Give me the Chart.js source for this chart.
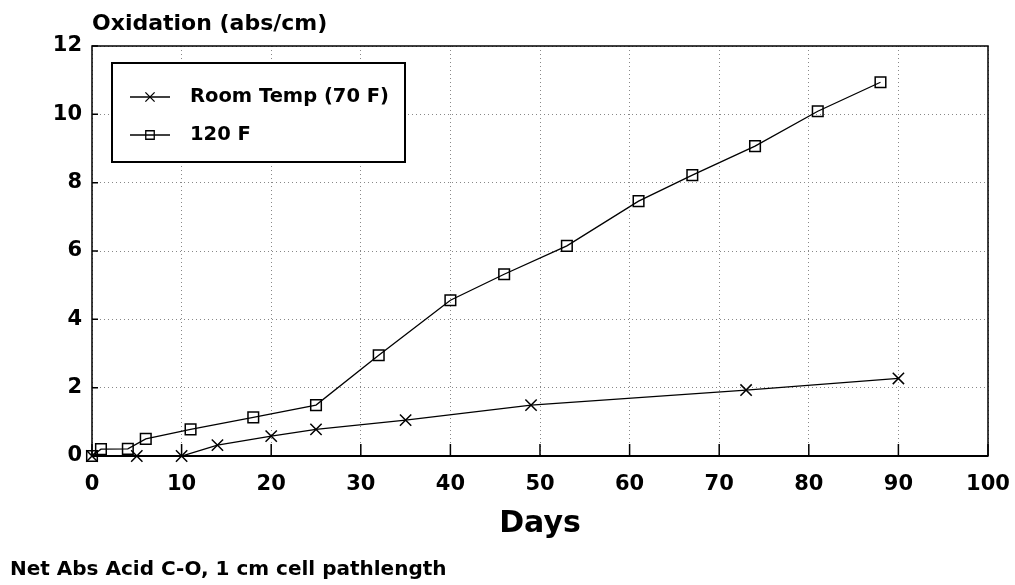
<!DOCTYPE html>
<html>
<head>
<meta charset="utf-8">
<script src="https://cdn.jsdelivr.net/npm/chart.js@4/dist/chart.umd.min.js"></script>
<style>
  html, body { margin: 0; padding: 0; background: #fff; }
  #wrap { width: 1015px; height: 585px; }
</style>
</head>
<body>
<div id="wrap"><canvas id="oxChart" width="1015" height="585"></canvas></div>
<script>
// ---- data ----
var roomDays = [0, 5, 10, 14, 20, 25, 35, 49, 73, 90];
var roomVals = [0, 0, 0, 0.32, 0.58, 0.78, 1.05, 1.49, 1.93, 2.27];
var hotDays = [0, 1, 4, 6, 11, 18, 25, 32, 40, 46, 53, 61, 67, 74, 81, 88];
var hotVals = [0, 0.2, 0.21, 0.5, 0.78, 1.13, 1.49, 2.95, 4.56, 5.32, 6.15, 7.46, 8.22, 9.07, 10.09, 10.94];
var seriesNames = ['Room Temp (70 F)', '120 F'];
var yTitle = 'Oxidation (abs/cm)';
var xTitle = 'Days';
var footNote = 'Net Abs Acid C-O, 1 cm cell pathlength';

var FONT = '"DejaVu Sans", sans-serif';

function pairs(xs, ys) {
    return xs.map(function (x, i) { return { x: x, y: ys[i] }; });
}

/* ── frame, inward ticks, titles, legend ───────────── */
var decorPlugin = {
    id: 'decor',
    afterDraw: function (chart) {
        var ctx = chart.ctx, a = chart.chartArea;
        var xs = chart.scales.x, ys = chart.scales.y;
        ctx.save();
        ctx.strokeStyle = '#000';

        // box
        ctx.lineWidth = 1.5;
        ctx.strokeRect(a.left, a.top, a.right - a.left, a.bottom - a.top);
        ctx.lineWidth = 2;
        ctx.beginPath();
        ctx.moveTo(a.left, a.bottom); ctx.lineTo(a.right, a.bottom);
        ctx.stroke();

        // inward tick marks
        ctx.lineWidth = 1.5;
        ctx.beginPath();
        xs.ticks.forEach(function (t) {
            var px = xs.getPixelForValue(t.value);
            ctx.moveTo(px, a.bottom); ctx.lineTo(px, a.bottom - 12);
        });
        ys.ticks.forEach(function (t) {
            var py = ys.getPixelForValue(t.value);
            ctx.moveTo(a.left, py); ctx.lineTo(a.left + 6, py);
        });
        ctx.stroke();

        // texts
        ctx.fillStyle = '#000';
        ctx.textBaseline = 'middle';
        ctx.textAlign = 'left';
        ctx.font = 'bold 22px ' + FONT;
        ctx.fillText(yTitle, 92, 24);
        ctx.font = 'bold 20px ' + FONT;
        ctx.fillText(footNote, 10, 570);
        ctx.textAlign = 'center';
        ctx.font = 'bold 30px ' + FONT;
        ctx.fillText(xTitle, (a.left + a.right) / 2, 524);

        // legend
        var lx = 112, ly = 63, lw = 293, lh = 99;
        ctx.fillStyle = '#fff';
        ctx.fillRect(lx, ly, lw, lh);
        ctx.lineWidth = 2;
        ctx.strokeRect(lx, ly, lw, lh);
        var rows = [97, 135];
        chart.data.datasets.forEach(function (ds, i) {
            var y = rows[i];
            ctx.lineWidth = 1.3;
            ctx.strokeStyle = '#000';
            ctx.beginPath();
            ctx.moveTo(130, y); ctx.lineTo(170, y);
            ctx.stroke();
            ctx.fillStyle = 'rgba(0,0,0,0)';
            Chart.helpers.drawPoint(ctx, {
                pointStyle: ds.pointStyle,
                radius: ds.pointStyle === 'rect' ? 6 : 6.5,
                borderWidth: 1.3
            }, 150, y);
            ctx.fillStyle = '#000';
            ctx.textAlign = 'left';
            ctx.font = 'bold 19.5px ' + FONT;
            ctx.fillText(ds.label, 190, y);
        });
        ctx.restore();
    }
};

var gridOpts = { color: '#888', lineWidth: 1, drawTicks: false };
var borderOpts = { display: false, dash: [1, 3] };
var tickFont = { family: FONT, size: 21, weight: 'bold' };

new Chart(document.getElementById('oxChart'), {
    type: 'line',
    data: {
        datasets: [
            {
                label: seriesNames[0],
                data: pairs(roomDays, roomVals),
                borderColor: '#000',
                borderWidth: 1.3,
                pointStyle: 'crossRot',
                pointRadius: 8,
                pointBorderWidth: 1.5,
                pointBorderColor: '#000',
                pointBackgroundColor: 'rgba(0,0,0,0)',
                tension: 0
            },
            {
                label: seriesNames[1],
                data: pairs(hotDays, hotVals),
                borderColor: '#000',
                borderWidth: 1.3,
                pointStyle: 'rect',
                pointRadius: 7.5,
                pointBorderWidth: 1.5,
                pointBorderColor: '#000',
                pointBackgroundColor: 'rgba(0,0,0,0)',
                tension: 0
            }
        ]
    },
    options: {
        responsive: false,
        animation: false,
        clip: false,
        layout: { padding: { top: 46, right: 27, left: 0, bottom: 0 } },
        plugins: { legend: { display: false }, tooltip: { enabled: false } },
        scales: {
            x: {
                type: 'linear',
                min: 0, max: 100,
                grid: gridOpts,
                border: borderOpts,
                ticks: { stepSize: 10, color: '#000', font: tickFont, padding: 16, maxRotation: 0 },
                afterFit: function (s) { s.height = 129; s.paddingLeft = 0; s.paddingRight = 0; }
            },
            y: {
                min: 0, max: 12,
                grid: gridOpts,
                border: borderOpts,
                ticks: { stepSize: 2, color: '#000', font: tickFont, padding: 10 },
                afterFit: function (s) { s.width = 92; s.paddingTop = 0; s.paddingBottom = 0; }
            }
        }
    },
    plugins: [decorPlugin]
});
</script>
</body>
</html>
